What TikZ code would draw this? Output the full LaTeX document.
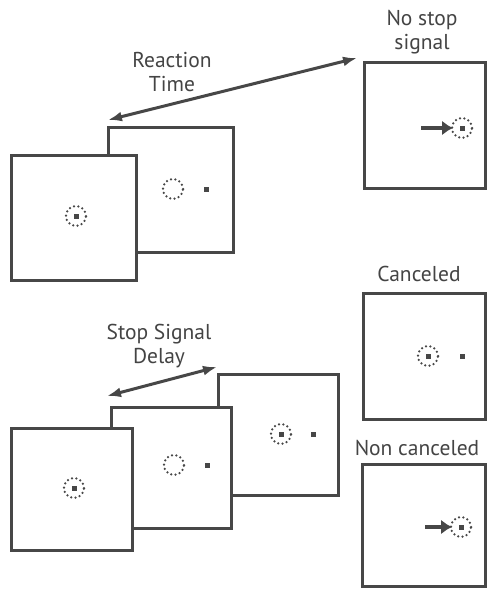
\documentclass[tikz,border=0pt]{standalone}
\usepackage{fontspec}
\setmainfont{PT Sans}
\usetikzlibrary{arrows.meta}
\definecolor{boxc}{HTML}{474747}
\definecolor{txtc}{HTML}{444444}
\tikzset{
  screen/.style={draw=boxc, line width=3pt, fill=white, rectangle, inner sep=0pt, outer sep=0pt},
  fixring/.style={draw=boxc, line width=2.5pt, dash pattern=on 0pt off 4.4pt, line cap=round, circle, minimum size=20pt, inner sep=0pt, outer sep=0pt},
  fixdot/.style={fill=boxc, rectangle, minimum size=5pt, inner sep=0pt},
  lbl/.style={text=txtc, font=\fontsize{21.5}{24}\selectfont, align=center, inner sep=0pt},
  rtarrow/.style={draw=boxc, line width=3pt, {Latex[length=14pt,width=10pt]}-{Latex[length=14pt,width=10pt]}},
  movearrow/.style={draw=boxc, line width=4.5pt, -{Latex[length=11pt,width=15pt]}, shorten >=-1pt}
}
\begin{document}
\begin{tikzpicture}[x=1pt,y=-1pt]
\useasboundingbox (0,0) rectangle (489,591);
% ---------- top row ----------
\node[screen, minimum width=125pt, minimum height=125pt] (tb) at (171,190) {};
\node[screen, minimum width=125pt, minimum height=125pt] (tf) at (74,218) {};
\node[screen, minimum width=121pt, minimum height=126pt] (tr) at (425,125.5) {};
% contents
\node[fixring] (tfr) at (76,216) {};
\node[fixdot] (tfd) at (76,216) {};
\node[fixring] (tbr) at (173,189) {};
\node[fixdot] (tbd) at (206,189) {};
\node[fixring] (trr) at (462,128) {};
\node[fixdot] (trd) at (462,128) {};
\coordinate (tra) at (421,128);
\draw[movearrow] (tra) -- (trr.west);
% reaction time
\coordinate (rt1) at (108,120);
\coordinate (rt2) at (357,58);
\draw[rtarrow] (rt1) -- (rt2);
\node[lbl] (rtl) at (172,72) {Reaction\\Time};
\node[lbl] (nsl) at (422,32) {No stop\\signal};
% ---------- bottom row ----------
\node[screen, minimum width=120pt, minimum height=121pt] (bb) at (278.5,435) {};
\node[screen, minimum width=120pt, minimum height=121pt] (bm) at (171.5,468) {};
\node[screen, minimum width=121pt, minimum height=122pt] (bf) at (72,489.5) {};
\node[fixring] (bfr) at (74,488) {};
\node[fixdot] (bfd) at (74,488) {};
\node[fixring] (bmr) at (174,465) {};
\node[fixdot] (bmd) at (207,465) {};
\node[fixring] (bbr) at (281,434) {};
\node[fixdot] (bbc) at (281,434) {};
\node[fixdot] (bbd) at (313,434) {};
\coordinate (ss1) at (107,396);
\coordinate (ss2) at (217,367);
\draw[rtarrow] (ss1) -- (ss2);
\node[lbl] (ssl) at (159,346) {Stop Signal\\Delay};
% ---------- right column ----------
\node[lbl] (cal) at (419,274) {Canceled};
\node[screen, minimum width=122pt, minimum height=126pt] (cb) at (424.5,356.5) {};
\node[fixring] (cbr) at (428,356) {};
\node[fixdot] (cbc) at (428,356) {};
\node[fixdot] (cbd) at (462,356) {};
\node[lbl] (ncl) at (417,448) {Non canceled};
\node[screen, minimum width=123pt, minimum height=122pt] (nb) at (424,525.5) {};
\node[fixring] (nbr) at (461,527) {};
\node[fixdot] (nbd) at (461,527) {};
\coordinate (nba) at (425,527);
\draw[movearrow] (nba) -- (nbr.west);
\end{tikzpicture}
\end{document}
